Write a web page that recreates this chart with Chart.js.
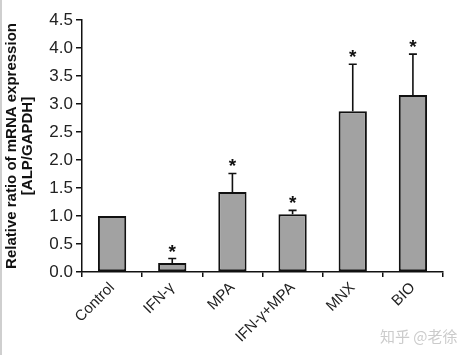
<!DOCTYPE html>
<html>
<head>
<meta charset="utf-8">
<script src="https://cdn.jsdelivr.net/npm/chart.js@4/dist/chart.umd.min.js"></script>
<style>
html,body{margin:0;padding:0;background:#fff;}
#wrap{width:468px;height:355px;position:relative;}
#wrap:before{content:"";position:absolute;left:0;top:0;width:2px;height:355px;background:#cfcfcf;}
</style>
</head>
<body>
<div id="wrap"><canvas id="c" width="468" height="355"></canvas></div>
<script>
const categories = ['Control', 'IFN-γ', 'MPA', 'IFN-γ+MPA', 'MNX', 'BIO'];
const means = [1.0, 0.16, 1.43, 1.03, 2.87, 3.16];
const errorTops = [1.0, 0.24, 1.76, 1.10, 3.71, 3.89];
const significant = [false, true, true, true, true, true];
const yTicks = [0, 0.5, 1.0, 1.5, 2.0, 2.5, 3.0, 3.5, 4.0, 4.5];

const FONT = "'Liberation Sans', Arial, sans-serif";

const errPlugin = {
  id: 'errs',
  afterDatasetsDraw(chart) {
    const ctx = chart.ctx;
    const x = chart.scales.x, y = chart.scales.y;
    ctx.save();
    categories.forEach((c, i) => {
      const cx = x.getPixelForValue(i);
      const yb = y.getPixelForValue(means[i]);
      const yt = y.getPixelForValue(errorTops[i]);
      if (errorTops[i] > means[i]) {
        ctx.strokeStyle = '#111';
        ctx.lineWidth = 1.6;
        ctx.beginPath();
        ctx.moveTo(cx, yb); ctx.lineTo(cx, yt);
        ctx.moveTo(cx - 4, yt); ctx.lineTo(cx + 4, yt);
        ctx.stroke();
      }
      if (significant[i]) {
        ctx.fillStyle = '#111';
        ctx.font = 'bold 19px ' + FONT;
        ctx.textAlign = 'center';
        ctx.textBaseline = 'alphabetic';
        ctx.fillText('*', cx, yt - 1);
      }
    });
    ctx.restore();
  },
  afterDraw(chart) {
    const ctx = chart.ctx;
    ctx.save();
    ctx.fillStyle = 'rgba(190,190,190,0.8)';
    ctx.font = "15px 'Noto Sans CJK SC', sans-serif";
    ctx.textAlign = 'left';
    ctx.textBaseline = 'middle';
    ctx.fillText('知乎 @老徐', 380, 336);
    ctx.restore();
  }
};

new Chart(document.getElementById('c'), {
  type: 'bar',
  data: {
    labels: categories,
    datasets: [{
      data: means,
      backgroundColor: '#a2a2a2',
      borderColor: '#111',
      borderWidth: 2,
      borderSkipped: false,
      categoryPercentage: 1.0,
      barPercentage: 0.47
    }]
  },
  options: {
    responsive: false,
    animation: false,
    devicePixelRatio: 1,
    layout: { padding: { left: 0, right: 25, top: 20, bottom: 0 } },
    plugins: { legend: { display: false }, tooltip: { enabled: false } },
    scales: {
      x: {
        afterFit(s) { s.height = 83; },
        grid: { drawOnChartArea: false, drawTicks: true, tickLength: 5, color: '#111', lineWidth: 1.5, offset: true },
        border: { color: '#111', width: 1.5 },
        ticks: { color: '#222', font: { family: FONT, size: 15 }, minRotation: 45, maxRotation: 45, padding: 2 }
      },
      y: {
        min: 0, max: 4.5,
        afterFit(s) { s.width = 82; },
        afterBuildTicks(s) { s.ticks = yTicks.map(v => ({ value: v })); },
        grid: { drawOnChartArea: false, drawTicks: true, tickLength: 6, color: '#111', lineWidth: 1.5 },
        border: { color: '#111', width: 1.5 },
        ticks: { color: '#222', font: { family: FONT, size: 17 }, padding: 3, callback: v => Number(v).toFixed(1) },
        title: {
          display: true,
          text: ['Relative ratio of mRNA expression', '[ALP/GAPDH]'],
          color: '#111',
          font: { family: FONT, size: 15, weight: 'bold', lineHeight: 1.07 },
          padding: { top: 4, bottom: 2 }
        }
      }
    }
  },
  plugins: [errPlugin]
});
</script>
</body>
</html>
